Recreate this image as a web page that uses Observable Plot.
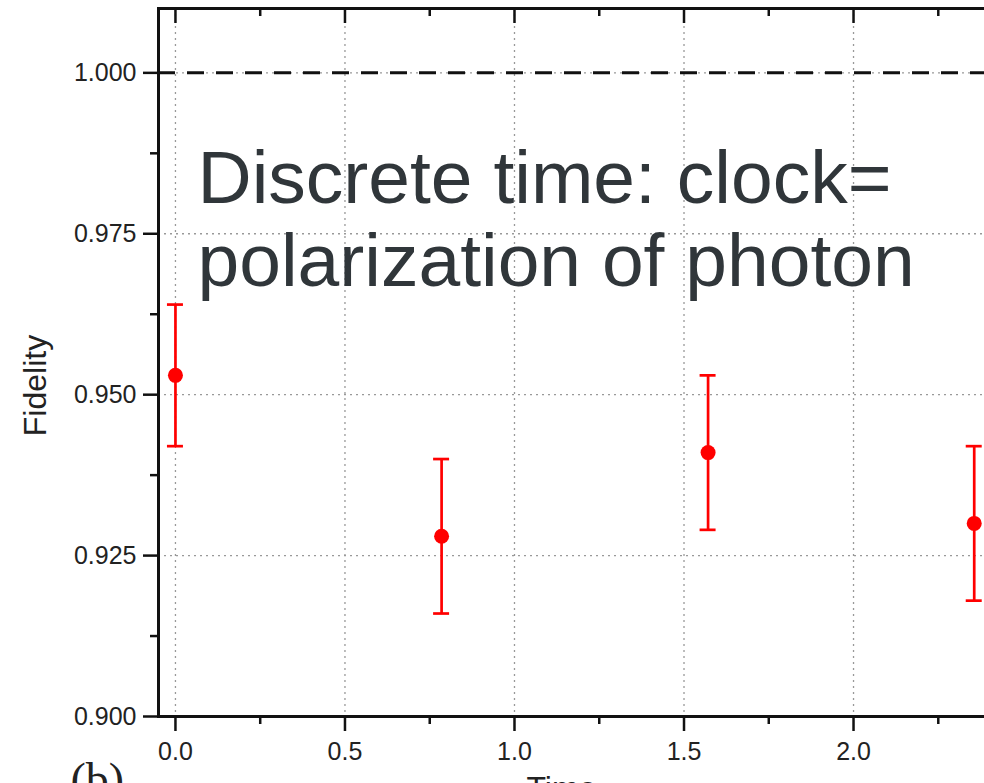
<!DOCTYPE html>
<html>
<head>
<meta charset="utf-8">
<script src="https://cdn.jsdelivr.net/npm/d3@7"></script>
<script src="https://cdn.jsdelivr.net/npm/@observablehq/plot@0.6"></script>
<style>
  html, body { margin: 0; padding: 0; background: #fff; overflow: hidden; width: 984px; height: 783px; }
  #chart { width: 984px; height: 783px; overflow: hidden; }
  #chart svg { display: block; max-width: none !important; width: 1010px !important; height: 783px !important; }
</style>
</head>
<body>
<div id="chart"></div>
<script>
// Data
const timeValues = [0, 0.785, 1.571, 2.356];
const fidelity   = [0.953, 0.928, 0.941, 0.930];
const errLow     = [0.942, 0.916, 0.929, 0.918];
const errHigh    = [0.964, 0.940, 0.953, 0.942];

const xMajorTicks = [0, 0.5, 1.0, 1.5, 2.0];
const xMinorTicks = [0.25, 0.75, 1.25, 1.75, 2.25];
const yMajorTicks = [0.900, 0.925, 0.950, 0.975, 1.000];
const yMinorTicks = [0.9125, 0.9375, 0.9625, 0.9875];
const referenceLine = [1.0];

const annotation = "Discrete time: clock=\npolarization of photon";
const yLabel = "Fidelity";
const xLabel = "Time";
const panelLabel = "(b)";

const data = timeValues.map((t, i) => ({t, f: fidelity[i], lo: errLow[i], hi: errHigh[i]}));

const font = "'Liberation Sans', Arial, sans-serif";

const chart = Plot.plot({
  width: 1010,
  height: 783,
  marginLeft: 158,
  marginTop: 8,
  marginBottom: 67,
  marginRight: 0,
  style: {fontFamily: font, fontSize: "25px", color: "#222", background: "#fff"},
  x: {domain: [-0.05, 2.463], axis: null},
  y: {domain: [0.9, 1.01], axis: null},
  marks: [
    Plot.gridX(xMajorTicks, {stroke: "#999", strokeOpacity: 1, strokeWidth: 1.3, strokeDasharray: "2,4"}),
    Plot.gridY(yMajorTicks.filter(d => d > 0.9), {stroke: "#999", strokeOpacity: 1, strokeWidth: 1.3, strokeDasharray: "2,4"}),
    Plot.ruleY(referenceLine, {stroke: "#111", strokeWidth: 3, strokeDasharray: "17,12"}),
    // axes
    Plot.axisY(yMajorTicks, {anchor: "left", tickSize: 15, tickPadding: 7, strokeWidth: 2.5, stroke: "#111", fill: "#222", tickFormat: d3.format(".3f"), label: null}),
    Plot.axisY(yMinorTicks, {anchor: "left", tickSize: 8, strokeWidth: 2.5, stroke: "#111", text: null, label: null}),
    Plot.axisX(xMajorTicks, {anchor: "bottom", tickSize: 15, tickPadding: 11, strokeWidth: 2.5, stroke: "#111", fill: "#222", tickFormat: d3.format(".1f"), label: null}),
    Plot.axisX(xMinorTicks, {anchor: "bottom", tickSize: 8, strokeWidth: 2.5, stroke: "#111", text: null, label: null}),
    Plot.axisX(xMajorTicks, {anchor: "top", tickSize: -14, strokeWidth: 2.5, stroke: "#111", text: null, label: null}),
    Plot.axisX(xMinorTicks, {anchor: "top", tickSize: -7, strokeWidth: 2.5, stroke: "#111", text: null, label: null}),
    Plot.frame({stroke: "#111", strokeWidth: 3}),
    // error bars
    Plot.ruleX(data, {x: "t", y1: "lo", y2: "hi", stroke: "#ff0000", strokeWidth: 2.7}),
    Plot.ruleY(data, {y: "hi", x1: "t", x2: "t", insetLeft: -8, insetRight: -8, stroke: "#ff0000", strokeWidth: 2.7}),
    Plot.ruleY(data, {y: "lo", x1: "t", x2: "t", insetLeft: -8, insetRight: -8, stroke: "#ff0000", strokeWidth: 2.7}),
    Plot.dot(data, {x: "t", y: "f", r: 7.5, fill: "#ff0000", stroke: "none"}),
    // annotation
    Plot.text([annotation], {frameAnchor: "top-left", dx: 39, dy: 136, text: d => d, textAnchor: "start", lineAnchor: "top", lineHeight: 1.1, fontSize: 75, fill: "#30363a", fontFamily: font}),
    // y label
    Plot.text([yLabel], {frameAnchor: "left", dx: -123, dy: 23, rotate: -90, text: d => d, textAnchor: "middle", lineAnchor: "middle", fontSize: 32, fill: "#222", fontFamily: font}),
    // x label (cut at the bottom, as in the reference)
    Plot.text([xLabel], {frameAnchor: "bottom-left", dx: 368, dy: 60, text: d => d, textAnchor: "start", lineAnchor: "top", fontSize: 32, fill: "#222", fontFamily: font}),
    // panel label
    Plot.text([panelLabel], {frameAnchor: "bottom-left", dx: -88, dy: 46, text: d => d, textAnchor: "start", lineAnchor: "top", fontSize: 46, fill: "#222", fontFamily: "'Liberation Serif', 'Times New Roman', serif"})
  ]
});

document.getElementById("chart").appendChild(chart);
</script>
</body>
</html>
